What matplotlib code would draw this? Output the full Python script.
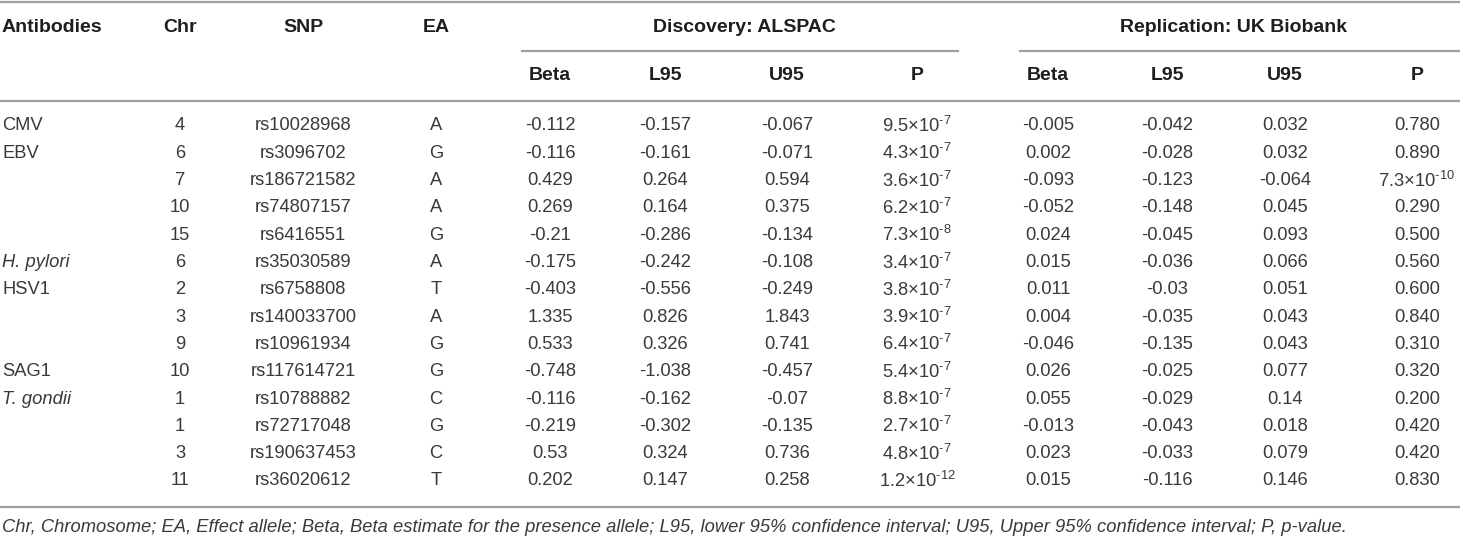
import matplotlib
matplotlib.use("Agg")
import matplotlib.pyplot as plt

# ---- data ----
antibodies = ["CMV", "EBV", "", "", "", "H. pylori", "HSV1", "", "", "SAG1", "T. gondii", "", "", ""]
italic_names = ["H. pylori", "T. gondii"]
chrom = [4, 6, 7, 10, 15, 6, 2, 3, 9, 10, 1, 1, 3, 11]
snp = ["rs10028968", "rs3096702", "rs186721582", "rs74807157", "rs6416551", "rs35030589",
       "rs6758808", "rs140033700", "rs10961934", "rs117614721", "rs10788882", "rs72717048",
       "rs190637453", "rs36020612"]
ea = ["A", "G", "A", "A", "G", "A", "T", "A", "G", "G", "C", "G", "C", "T"]

disc_beta = [-0.112, -0.116, 0.429, 0.269, -0.21, -0.175, -0.403, 1.335, 0.533, -0.748, -0.116, -0.219, 0.53, 0.202]
disc_l95 = [-0.157, -0.161, 0.264, 0.164, -0.286, -0.242, -0.556, 0.826, 0.326, -1.038, -0.162, -0.302, 0.324, 0.147]
disc_u95 = [-0.067, -0.071, 0.594, 0.375, -0.134, -0.108, -0.249, 1.843, 0.741, -0.457, -0.07, -0.135, 0.736, 0.258]
disc_p = ["9.5e-7", "4.3e-7", "3.6e-7", "6.2e-7", "7.3e-8", "3.4e-7", "3.8e-7", "3.9e-7",
          "6.4e-7", "5.4e-7", "8.8e-7", "2.7e-7", "4.8e-7", "1.2e-12"]

rep_beta = [-0.005, 0.002, -0.093, -0.052, 0.024, 0.015, 0.011, 0.004, -0.046, 0.026, 0.055, -0.013, 0.023, 0.015]
rep_l95 = [-0.042, -0.028, -0.123, -0.148, -0.045, -0.036, -0.03, -0.035, -0.135, -0.025, -0.029, -0.043, -0.033, -0.116]
rep_u95 = [0.032, 0.032, -0.064, 0.045, 0.093, 0.066, 0.051, 0.043, 0.043, 0.077, 0.14, 0.018, 0.079, 0.146]
rep_p = ["0.780", "0.890", "7.3e-10", "0.290", "0.500", "0.560", "0.600", "0.840", "0.310",
         "0.320", "0.200", "0.420", "0.420", "0.830"]

top_headers = ["Antibodies", "Chr", "SNP", "EA"]
group_headers = ["Discovery: ALSPAC", "Replication: UK Biobank"]
sub_headers = ["Beta", "L95", "U95", "P"]
footnote = ("Chr, Chromosome; EA, Effect allele; Beta, Beta estimate for the presence allele; "
            "L95, lower 95% confidence interval; U95, Upper 95% confidence interval; P, p-value.")

# ---- layout ----
plt.rcParams['font.family'] = ['Liberation Sans', 'DejaVu Sans']
plt.rcParams['mathtext.fontset'] = 'custom'
plt.rcParams['mathtext.rm'] = 'Liberation Sans'
plt.rcParams['mathtext.it'] = 'Liberation Sans:italic'
plt.rcParams['mathtext.bf'] = 'Liberation Sans:bold'

W, H = 1460, 538
fig = plt.figure(figsize=(W / 100, H / 100), dpi=100)
ax = fig.add_axes([0, 0, 1, 1])
ax.set_xlim(0, W)
ax.set_ylim(H, 0)
ax.axis('off')

body_fs = 13.2
head_fs = 14.0
body_col = "#3a3a3a"
head_col = "#1e1e1e"
line_col = "#a0a0a0"

x_ab = 2
x_chr, x_snp, x_ea = 180, 303, 436
x_disc = [550, 665, 787, 917]
x_rep = [1048, 1167, 1285, 1417]
sub1 = (521, 959)
sub2 = (1019, W)

y_h1, y_sub, y_h2, y_hline = 27, 51, 76, 101
y0, dy = 126, 27.3
y_bline, y_foot = 507, 528


def fmt_p(s):
    if "e" in s:
        m, e = s.split("e")
        return m + "\u00d710$^{\\text{" + e + "}}$"
    return s


# lines
lk = dict(color=line_col, lw=1.6, solid_capstyle='butt')
ax.plot([0, W], [1.5, 1.5], **lk)
ax.plot(sub1, [y_sub, y_sub], **lk)
ax.plot(sub2, [y_sub, y_sub], **lk)
ax.plot([0, W], [y_hline, y_hline], **lk)
ax.plot([0, W], [y_bline, y_bline], **lk)

# headers
hk = dict(fontsize=head_fs, fontweight='bold', color=head_col, va='center')
ax.text(x_ab, y_h1, top_headers[0], ha='left', **hk)
for x, t in zip([x_chr, x_snp, x_ea], top_headers[1:]):
    ax.text(x, y_h1, t, ha='center', **hk)
ax.text(sum(sub1) / 2 + 4, y_h1, group_headers[0], ha='center', **hk)
ax.text(sum(sub2) / 2 - 6, y_h1, group_headers[1], ha='center', **hk)
for xs in (x_disc, x_rep):
    for x, t in zip(xs, sub_headers):
        ax.text(x, y_h2, t, ha='center', **hk)

# body
bk = dict(fontsize=body_fs, color=body_col, va='center')
for i in range(len(snp)):
    y = y0 + i * dy
    if antibodies[i]:
        ax.text(x_ab, y, antibodies[i], ha='left',
                style='italic' if antibodies[i] in italic_names else 'normal', **bk)
    ax.text(x_chr, y, str(chrom[i]), ha='center', **bk)
    ax.text(x_snp, y, snp[i], ha='center', **bk)
    ax.text(x_ea, y, ea[i], ha='center', **bk)
    vals_d = [str(disc_beta[i]), str(disc_l95[i]), str(disc_u95[i]), fmt_p(disc_p[i])]
    vals_r = [str(rep_beta[i]), str(rep_l95[i]), str(rep_u95[i]), fmt_p(rep_p[i])]
    for x, v in zip(x_disc, vals_d):
        ax.text(x, y, v, ha='center', **bk)
    for x, v in zip(x_rep, vals_r):
        ax.text(x, y, v, ha='center', **bk)

ax.text(x_ab, y_foot, footnote, ha='left', style='italic', **bk)

fig.savefig("out.png", dpi=100)
